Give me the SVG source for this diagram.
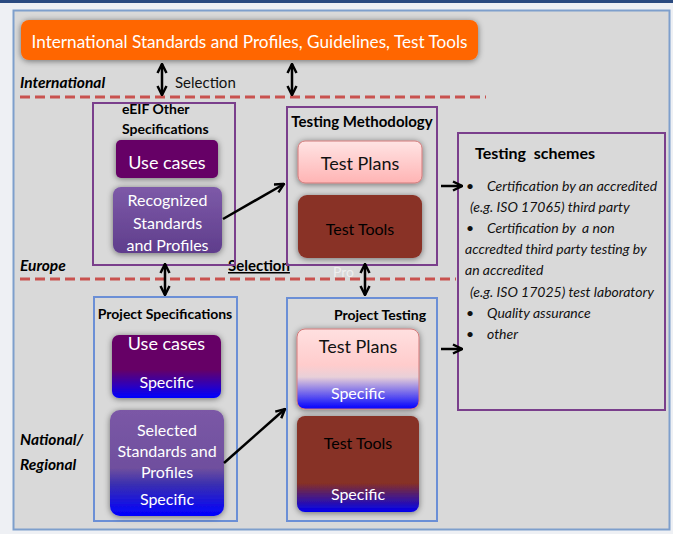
<svg xmlns="http://www.w3.org/2000/svg" width="673" height="534" viewBox="0 0 673 534">
<defs>
<style>
text{font-family:Lato,"Open Sans","Liberation Sans",sans-serif}
.w{fill:#fff}
.b{font-weight:bold;fill:#000}
.bi{font-weight:bold;font-style:italic;fill:#000;font-size:15.5px}
.it{font-style:italic;fill:#111;font-size:14px}
.frame{fill:none;stroke-width:2}
.pur{stroke:#7a3f8c}
.blu{stroke:#6b8fd6}
.con{stroke:#000;stroke-width:2.5;fill:none}
.dash{stroke:#c9524f;stroke-width:3;stroke-dasharray:10 5;fill:none}
</style>
<filter id="sh" x="-20%" y="-20%" width="140%" height="140%">
<feGaussianBlur in="SourceAlpha" stdDeviation="3"/>
<feOffset dx="0" dy="1"/>
<feComponentTransfer><feFuncA type="linear" slope="0.5"/></feComponentTransfer>
<feMerge><feMergeNode/><feMergeNode in="SourceGraphic"/></feMerge>
</filter>
<marker id="ah" viewBox="0 0 10 10" refX="9" refY="5" markerWidth="4.5" markerHeight="4.5" orient="auto-start-reverse">
<path d="M1,1 L9,5 L1,9" fill="none" stroke="#000" stroke-width="2.2"/>
</marker>
<linearGradient id="recog" x1="0" y1="0" x2="0" y2="1"><stop offset="0" stop-color="#7d5aa8"/><stop offset="1" stop-color="#5f3d8c"/></linearGradient>
<linearGradient id="pink" x1="0" y1="0" x2="0" y2="1"><stop offset="0" stop-color="#ffe4e4"/><stop offset="1" stop-color="#ffb4b4"/></linearGradient>
<linearGradient id="uc2" x1="0" y1="0" x2="0" y2="1"><stop offset="0" stop-color="#660066"/><stop offset="0.55" stop-color="#660066"/><stop offset="1" stop-color="#0000ff"/></linearGradient>
<linearGradient id="sel" x1="0" y1="0" x2="0" y2="1"><stop offset="0" stop-color="#7b58a6"/><stop offset="0.55" stop-color="#6f4f9e"/><stop offset="0.7" stop-color="#3a2fb0"/><stop offset="1" stop-color="#0000ff"/></linearGradient>
<linearGradient id="tp2" x1="0" y1="0" x2="0" y2="1"><stop offset="0" stop-color="#ffe0e0"/><stop offset="0.45" stop-color="#ffcccc"/><stop offset="0.6" stop-color="#e8d0d8"/><stop offset="1" stop-color="#0000ff"/></linearGradient>
<linearGradient id="tt2" x1="0" y1="0" x2="0" y2="1"><stop offset="0" stop-color="#873025"/><stop offset="0.7" stop-color="#873025"/><stop offset="1" stop-color="#0000ee"/></linearGradient>
</defs>
<rect x="0" y="0" width="673" height="534" fill="#eef0f4"/>
<rect x="0" y="0" width="673" height="3" fill="#2a4a80"/>
<rect x="13.5" y="10.5" width="656" height="519" fill="#d9d9d9" stroke="#7e9fcc" stroke-width="2"/>

<g id="top">
<rect x="21" y="20" width="457" height="40" rx="8" fill="#ff6600" filter="url(#sh)"/>
<text x="249.5" y="48" class="w" font-size="18" text-anchor="middle" textLength="436" lengthAdjust="spacingAndGlyphs">International Standards and Profiles, Guidelines, Test Tools</text>
</g>

<g id="labels">
<text x="20" y="88" class="bi">International</text>
<text x="175" y="88" font-size="15" fill="#111">Selection</text>
<text x="20" y="271" class="bi">Europe</text>
<text x="228" y="271" class="b" font-size="15" text-decoration="underline">Selection</text>
<text x="333" y="277" font-size="14" fill="#fff" fill-opacity="0.6">Pro</text>
<text x="20" y="445" class="bi">National/</text>
<text x="20" y="470" class="bi">Regional</text>
<path class="dash" d="M20,97 H486"/>
<path class="dash" d="M20,279 H456"/>
</g>

<g id="eeif">
<rect x="93" y="103" width="142" height="162" class="frame pur"/>
<text x="122" y="114" class="b" font-size="14">eEIF Other</text>
<text x="122" y="134" class="b" font-size="14">Specifications</text>
<rect x="116" y="140" width="102" height="38" rx="5" fill="#660066" filter="url(#sh)"/>
<text x="167" y="169" class="w" font-size="18" text-anchor="middle">Use cases</text>
<rect x="113" y="187" width="109" height="66" rx="8" fill="url(#recog)" filter="url(#sh)"/>
<text x="167.5" y="206" class="w" font-size="16" text-anchor="middle">Recognized</text>
<text x="167.5" y="229" class="w" font-size="16" text-anchor="middle">Standards</text>
<text x="167.5" y="251" class="w" font-size="16" text-anchor="middle">and Profiles</text>
</g>

<g id="testing-methodology">
<rect x="287" y="107" width="150" height="158" class="frame pur"/>
<text x="362" y="127" class="b" font-size="15" text-anchor="middle">Testing Methodology</text>
<rect x="298" y="141" width="124" height="42" rx="7" fill="url(#pink)" stroke="#d27a7a" filter="url(#sh)"/>
<text x="360" y="170" font-size="18" fill="#111" text-anchor="middle">Test Plans</text>
<rect x="298" y="195" width="124" height="63" rx="9" fill="#893126" filter="url(#sh)"/>
<text x="360" y="235" font-size="16" fill="#000" text-anchor="middle">Test Tools</text>
</g>

<g id="testing-schemes">
<rect x="458" y="133" width="207" height="277" fill="#d9d9d9" class="frame pur" stroke-width="2.5"/>
<text x="475" y="159" class="b" font-size="16" xml:space="preserve">Testing  schemes</text>
<text x="466" y="191" class="it">•</text>
<text x="487" y="191" class="it">Certification by an accredited</text>
<text x="470" y="212" class="it">(e.g. ISO 17065) third party</text>
<text x="466" y="233" class="it">•</text>
<text x="487" y="233" class="it" xml:space="preserve">Certification by  a non</text>
<text x="465" y="254" class="it">accredted third party testing by</text>
<text x="465" y="275" class="it">an accredited</text>
<text x="470" y="297" class="it">(e.g. ISO 17025) test laboratory</text>
<text x="466" y="318" class="it">•</text>
<text x="487" y="318" class="it">Quality assurance</text>
<text x="466" y="339" class="it">•</text>
<text x="487" y="339" class="it">other</text>
</g>

<g id="project-specifications">
<rect x="94" y="297" width="143" height="224" class="frame blu"/>
<text x="165" y="319" class="b" font-size="14" text-anchor="middle">Project Specifications</text>
<rect x="112" y="335" width="109" height="63" rx="7" fill="url(#uc2)" filter="url(#sh)"/>
<text x="166.5" y="350" class="w" font-size="18" text-anchor="middle">Use cases</text>
<text x="166.5" y="388" class="w" font-size="16" text-anchor="middle">Specific</text>
<rect x="110" y="410" width="114" height="106" rx="10" fill="url(#sel)" filter="url(#sh)"/>
<text x="167" y="436" class="w" font-size="16" text-anchor="middle">Selected</text>
<text x="167" y="457" class="w" font-size="16" text-anchor="middle">Standards and</text>
<text x="167" y="478" class="w" font-size="16" text-anchor="middle">Profiles</text>
<text x="167" y="505" class="w" font-size="16" text-anchor="middle">Specific</text>
</g>

<g id="project-testing">
<rect x="287" y="298" width="150" height="223" class="frame blu"/>
<text x="380" y="320" class="b" font-size="14" text-anchor="middle">Project Testing</text>
<rect x="297" y="329" width="122" height="80" rx="8" fill="url(#tp2)" stroke="#d27a7a" filter="url(#sh)"/>
<text x="358" y="353" font-size="18" fill="#111" text-anchor="middle">Test Plans</text>
<text x="358" y="399" class="w" font-size="16" text-anchor="middle">Specific</text>
<rect x="297" y="416" width="122" height="96" rx="8" fill="url(#tt2)" filter="url(#sh)"/>
<text x="358" y="449" font-size="16" fill="#000" text-anchor="middle">Test Tools</text>
<text x="358" y="500" class="w" font-size="16" text-anchor="middle">Specific</text>
</g>

<g id="connectors">
<path class="con" d="M162,64 V95" marker-start="url(#ah)" marker-end="url(#ah)"/>
<path class="con" d="M292,64 V95" marker-start="url(#ah)" marker-end="url(#ah)"/>
<path class="con" d="M165,264 V295" marker-start="url(#ah)" marker-end="url(#ah)"/>
<path class="con" d="M365,264 V295" marker-start="url(#ah)" marker-end="url(#ah)"/>
<path class="con" d="M223,219 L284,184" marker-end="url(#ah)"/>
<path class="con" d="M224,463 L285,409" marker-end="url(#ah)"/>
<path class="con" d="M441,186 H462" marker-end="url(#ah)"/>
<path class="con" d="M441,349 H462" marker-end="url(#ah)"/>
</g>
</svg>
